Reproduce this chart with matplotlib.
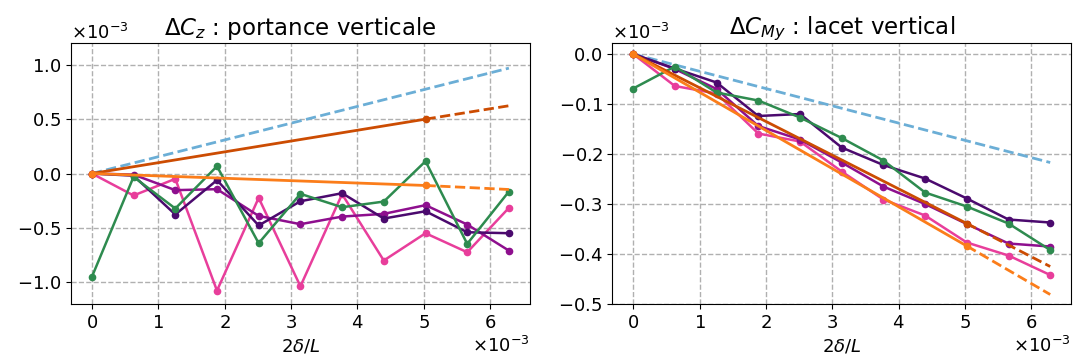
import matplotlib
matplotlib.use("Agg")
import matplotlib.pyplot as plt

# x axis: 2*delta/L, in units of 1e-3
x = [0, 0.628, 1.257, 1.885, 2.513, 3.142, 3.770, 4.398, 5.027, 5.655, 6.283]
x_model = [0, 5.027]
x_extra = [5.027, 6.283]
x_theory = [0, 6.283]

# left panel: Delta Cz (units of 1e-3)
cz_indigo = [0, -0.02, -0.377, -0.061, -0.478, -0.255, -0.181, -0.414, -0.347, -0.54, -0.549]
cz_magenta = [0, -0.01, -0.153, -0.144, -0.39, -0.466, -0.396, -0.371, -0.291, -0.469, -0.709]
cz_pink = [0, -0.202, -0.049, -1.077, -0.224, -1.037, -0.19, -0.80, -0.549, -0.724, -0.316]
cz_green = [-0.951, -0.031, -0.322, 0.067, -0.641, -0.187, -0.31, -0.258, 0.113, -0.647, -0.166]
cz_theory = [0, 0.969]
cz_dark = [0, 0.5]
cz_dark_extra = [0.5, 0.623]
cz_orange = [0, -0.110]
cz_orange_extra = [-0.110, -0.147]

# right panel: Delta CMy (units of 1e-3)
cm_indigo = [0, -0.029, -0.057, -0.124, -0.12, -0.187, -0.222, -0.249, -0.289, -0.331, -0.337]
cm_magenta = [0, -0.03, -0.07, -0.144, -0.171, -0.217, -0.265, -0.30, -0.34, -0.379, -0.385]
cm_pink = [0, -0.064, -0.079, -0.159, -0.175, -0.235, -0.291, -0.323, -0.377, -0.403, -0.442]
cm_green = [-0.069, -0.025, -0.077, -0.093, -0.127, -0.168, -0.213, -0.277, -0.305, -0.339, -0.392]
cm_theory = [0, -0.217]
cm_dark = [0, -0.339]
cm_dark_extra = [-0.339, -0.425]
cm_orange = [0, -0.384]
cm_orange_extra = [-0.384, -0.481]

titles = [r"$\Delta C_z$ : portance verticale", r"$\Delta C_{My}$ : lacet vertical"]
xlabel = r"$2\delta/L$"

c_blue = "#6baed6"
c_dark = "#cc4c02"
c_orange = "#fb7d1a"
c_indigo = "#4b0a6e"
c_magenta = "#8e0f8e"
c_pink = "#e83e9b"
c_green = "#2e8b4f"


def sc(v):
    return [a * 1e-3 for a in v]


def draw(ax, indigo, magenta, pink, green, theory, dark, dark_extra, orange, orange_extra):
    ax.plot(sc(x_theory), sc(theory), "--", color=c_blue, lw=2)
    ax.plot(sc(x), sc(pink), "-o", color=c_pink, lw=1.8, ms=4.5)
    ax.plot(sc(x), sc(magenta), "-o", color=c_magenta, lw=1.8, ms=4.5)
    ax.plot(sc(x), sc(indigo), "-o", color=c_indigo, lw=1.8, ms=4.5)
    ax.plot(sc(x), sc(green), "-o", color=c_green, lw=1.8, ms=4.5)
    ax.plot(sc(x_model), sc(dark), "-o", color=c_dark, lw=2, ms=4.5)
    ax.plot(sc(x_extra), sc(dark_extra), "--", color=c_dark, lw=2)
    ax.plot(sc(x_model), sc(orange), "-o", color=c_orange, lw=2, ms=4.5)
    ax.plot(sc(x_extra), sc(orange_extra), "--", color=c_orange, lw=2)
    ax.grid(True, linestyle="--", color="#b0b0b0", lw=1)
    ax.ticklabel_format(axis="both", style="sci", scilimits=(-3, -3), useMathText=True)
    ax.set_xlabel(xlabel, fontsize=13)
    ax.tick_params(labelsize=13)
    ax.xaxis.get_offset_text().set_fontsize(13)
    ax.yaxis.get_offset_text().set_fontsize(13)


def main():
    fig, (ax1, ax2) = plt.subplots(1, 2, figsize=(10.76, 3.63), dpi=100)
    fig.subplots_adjust(left=0.066, right=0.9954, bottom=0.1625, top=0.8815, wspace=0.18)

    draw(ax1, cz_indigo, cz_magenta, cz_pink, cz_green, cz_theory, cz_dark, cz_dark_extra, cz_orange, cz_orange_extra)
    ax1.set_ylim(-1.2e-3, 1.2e-3)
    ax1.set_title(titles[0], fontsize=16.5)

    draw(ax2, cm_indigo, cm_magenta, cm_pink, cm_green, cm_theory, cm_dark, cm_dark_extra, cm_orange, cm_orange_extra)
    ax2.set_ylim(-0.5e-3, 0.022e-3)
    ax2.set_title(titles[1], fontsize=16.5)

    plt.savefig("out.png", dpi=100)


if __name__ == "__main__":
    main()
